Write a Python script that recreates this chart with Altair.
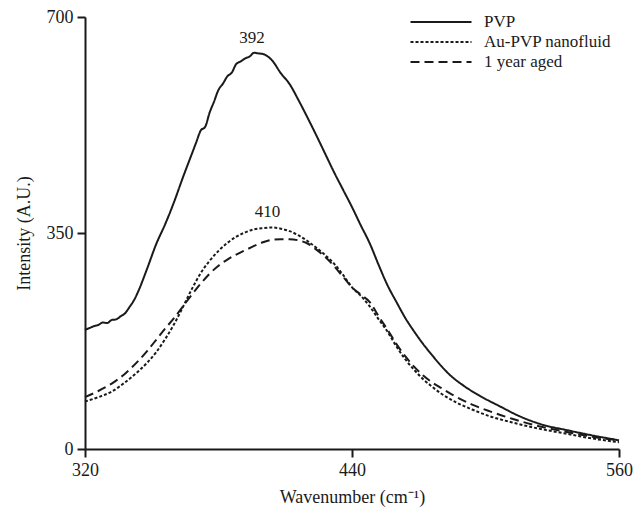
import altair as alt
import pandas as pd

# ---- data ----
series_names = ["PVP", "Au-PVP nanofluid", "1 year aged"]

pvp_x = [320, 322, 324, 326, 328, 330, 332, 334, 336, 338, 340, 342, 344, 348, 352, 356, 360, 364,
         368, 370, 372, 374, 376, 378, 380, 382, 384, 386, 388, 390, 392, 394, 396, 398, 400, 404,
         408, 412, 416, 420, 424, 428, 432, 436, 440, 444, 448, 452, 456, 460, 464, 468, 472, 476,
         480, 484, 490, 498, 506, 516, 526, 536, 548, 560]
pvp_y = [193, 196, 199, 201, 205, 204, 209, 210, 215, 220, 230, 241, 256, 293, 332, 364, 400, 440,
         478, 497, 516, 522, 545, 563, 582, 592, 604, 610, 624, 628, 633, 636, 642, 641, 640, 630,
         609, 591, 565, 537, 508, 478, 448, 420, 392, 362, 333, 298, 265, 238, 212, 190, 170, 152,
         135, 120, 103, 85, 70, 52, 39, 31, 22, 14]

au_x = [320, 326, 332, 338, 344, 348, 352, 356, 360, 364, 368, 372, 376, 380, 384, 388, 392, 396,
        400, 404, 408, 412, 416, 420, 424, 428, 432, 436, 440, 444, 448, 452, 456, 460, 464, 468,
        472, 476, 480, 486, 494, 502, 512, 524, 536, 548, 560]
au_y = [77, 84, 93, 108, 126, 140, 157, 178, 202, 230, 259, 285, 305, 321, 334, 344, 351, 356,
        358, 359, 357, 353, 346, 337, 326, 314, 300, 282, 262, 248, 231, 210, 190, 166, 145, 128,
        113, 101, 90, 77, 64, 53, 43, 33, 25, 17, 11]

aged_x = [320, 326, 332, 338, 344, 348, 352, 356, 360, 364, 368, 372, 376, 380, 384, 388, 392, 396,
          400, 404, 408, 412, 416, 420, 424, 428, 432, 436, 440, 444, 448, 452, 456, 460, 464, 468,
          472, 476, 480, 486, 494, 502, 512, 524, 536, 548, 560]
aged_y = [84, 94, 106, 122, 143, 159, 177, 195, 212, 231, 250, 268, 284, 297, 307, 315, 322, 329,
          335, 339, 340, 340, 338, 333, 323, 311, 296, 279, 262, 250, 238, 215, 193, 170, 150, 133,
          119, 108, 99, 86, 72, 61, 49, 37, 28, 20, 14]

ann_text = ["392", "410"]
ann_x = [395, 402]
ann_y = [666, 384]

x_ticks = [320, 440, 560]
y_ticks = [0, 350, 700]

# ---- build table ----
rows = []
for name, xs, ys in [(series_names[0], pvp_x, pvp_y),
                     (series_names[1], au_x, au_y),
                     (series_names[2], aged_x, aged_y)]:
    for i, (xv, yv) in enumerate(zip(xs, ys)):
        rows.append({"series": name, "x": xv, "y": yv, "order": i})
df = pd.DataFrame(rows)
ann = pd.DataFrame({"label": ann_text, "x": ann_x, "y": ann_y})

FONT = "Liberation Serif"
INK = "#1a1a1a"

xscale = alt.Scale(domain=[320, 560], nice=False, zero=False)
yscale = alt.Scale(domain=[0, 700], nice=False)

lines = alt.Chart(df).mark_line(color=INK, strokeWidth=2, interpolate="monotone").encode(
    x=alt.X("x:Q", scale=xscale,
            axis=alt.Axis(values=x_ticks, title="Wavenumber (cm\u207b\u00b9)", titlePadding=9)),
    y=alt.Y("y:Q", scale=yscale,
            axis=alt.Axis(values=y_ticks, title="Intensity (A.U.)", titlePadding=13)),
    strokeDash=alt.StrokeDash(
        "series:N",
        scale=alt.Scale(domain=series_names, range=[[1, 0], [3, 2], [9, 5]]),
        legend=alt.Legend(title=None, orient="none", legendX=345, legendY=-6,
                          symbolType="M-3.05,0H3.05", symbolSize=400, symbolStrokeWidth=2,
                          symbolStrokeColor=INK, labelOffset=32, rowPadding=1,
                          labelFont=FONT, labelFontSize=17, labelColor=INK, padding=0),
    ),
    detail="series:N",
    order="order:Q",
)

labels = alt.Chart(ann).mark_text(font=FONT, fontSize=17, color=INK, baseline="middle").encode(
    x=alt.X("x:Q", scale=xscale),
    y=alt.Y("y:Q", scale=yscale),
    text="label:N",
)

chart = (lines + labels).properties(
    width=534, height=432,
    autosize=alt.AutoSizeParams(type="none"),
    padding={"left": 77, "top": 9, "right": 14, "bottom": 60},
    background="white",
).configure_view(stroke="transparent").configure_axis(
    grid=False, domainColor=INK, domainWidth=2, tickColor=INK, tickWidth=2, tickSize=8,
    labelFont=FONT, labelFontSize=18, labelColor=INK, labelFlush=False, labelPadding=4,
    titleFont=FONT, titleFontSize=18, titleFontWeight="normal", titleColor=INK,
)

chart.save("out.html", embed_options={"renderer": "svg", "actions": False})
